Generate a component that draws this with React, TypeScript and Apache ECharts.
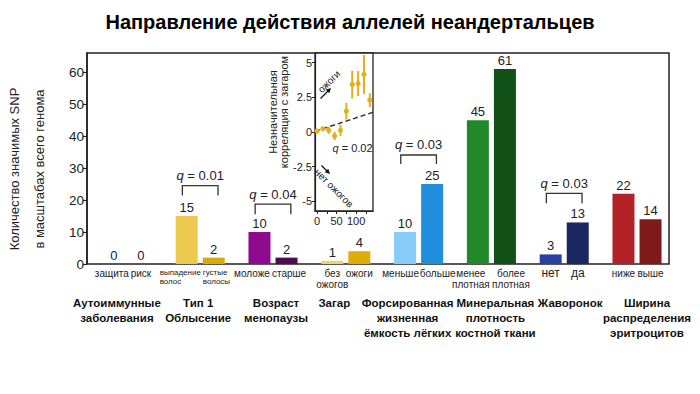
import React, { useEffect, useRef } from 'react';
import * as echarts from 'echarts';

const FONT = "'Liberation Sans', Arial, Helvetica, sans-serif";

// ---- data ----
const groups = [
  'Аутоиммунные\nзаболевания',
  'Тип 1\nОблысение',
  'Возраст\nменопаузы',
  'Загар',
  'Форсированная\nжизненная\nёмкость лёгких',
  'Минеральная\nплотность\nкостной ткани',
  'Жаворонок',
  'Ширина\nраспределения\nэритроцитов',
];
const subA = ['защита', 'выпадение\nволос', 'моложе', 'без\nожогов', 'меньше', 'менее\nплотная', 'нет', 'ниже'];
const subB = ['риск', 'густые\nволосы', 'старше', 'ожоги', 'больше', 'более\nплотная', 'да', 'выше'];
const valuesA = [0, 15, 10, 1, 10, 45, 3, 22];
const valuesB = [0, 2, 2, 4, 25, 61, 13, 14];
const yTicks = [0, 10, 20, 30, 40, 50, 60];

const qGroups = [1, 2, 4, 6];
const qLevel = [24.5, 18.7, 34.1, 22.1];
const qFoot = [21.4, 15.6, 31.3, 19.0];
const qValues = ['0.01', '0.04', '0.03', '0.03'];

const tanX = [0, 15, 30, 45, 60, 75, 90, 105, 120, 135];
const tanY = [0.07, 0.24, 0.12, -0.29, 0.12, 1.5, 3.42, 3.5, 4.15, 2.3];
const tanErr = [0.06, 0.08, 0.25, 0.3, 0.4, 0.6, 1.0, 0.9, 1.4, 0.5];
const fitX = [-5, 143];
const fitY = [0.05, 1.42];
const insetYTicks = [-5, -2.5, 0, 2.5, 5];
const insetXLabels = [0, 50, 100];
const insetXTicks = [0, 25, 50, 75, 100, 125];

// ---- styles ----
const colorsA = ['#999999', '#ECC94F', '#8E0A8E', '#F2D46E', '#87CDF8', '#22892A', '#2B40A3', '#B22226'];
const colorsB = ['#666666', '#D8AA0C', '#4E0B50', '#DFAD08', '#1F8EDC', '#115016', '#1B285F', '#7E1A1A'];
const GOLD = '#E2B01C';
const groupShift = [-10.5, -2, 3, -11.5, -11, 4, 6, 10];
const subAStyle: Record<number, any> = {
  0: { offset: [-2, 0] },
  1: { fontSize: 8, lineHeight: 9, align: 'left', offset: [-27, 0] },
  2: { offset: [-7.5, 0] },
  3: { lineHeight: 11 },
  4: { offset: [-4.5, 0] },
  5: { lineHeight: 11, offset: [-7, 0] },
  6: { fontSize: 12 },
};
const subBStyle: Record<number, any> = {
  1: { fontSize: 8, lineHeight: 9, align: 'left', offset: [-11, 0] },
  2: { offset: [2.5, 0] },
  4: { offset: [5.5, 0] },
  5: { lineHeight: 11, offset: [6, 0] },
  6: { fontSize: 12 },
};

function subSeries(names: string[], styles: Record<number, any>, stack: string) {
  return {
    type: 'bar',
    xAxisIndex: 1,
    yAxisIndex: 1,
    stack,
    barWidth: 22,
    barGap: '23%',
    itemStyle: { color: 'rgba(0,0,0,0)' },
    silent: true,
    data: names.map((n, i) => ({
      value: 0,
      label: { formatter: n, ...(styles[i] || {}) },
    })),
    label: {
      show: true,
      position: 'bottom',
      distance: 4,
      fontSize: 10,
      lineHeight: 10.5,
      color: '#222',
      fontFamily: FONT,
    },
  };
}

function valueSeries(values: number[], colors: string[], stack: string) {
  return {
    type: 'bar',
    xAxisIndex: 1,
    yAxisIndex: 1,
    stack,
    barWidth: 22,
    barGap: '23%',
    data: values.map((v, i) => ({ value: v, itemStyle: { color: colors[i] } })),
    label: {
      show: true,
      position: 'top',
      distance: 2,
      fontSize: 13,
      color: '#222',
      fontFamily: FONT,
    },
  };
}

export default function App() {
  const ref = useRef<HTMLDivElement>(null);
  useEffect(() => {
    if (!ref.current) return;
    const chart = echarts.init(ref.current, undefined, { renderer: 'svg' });
    const option: any = {
      animation: false,
      backgroundColor: '#fff',
      title: {
        text: 'Направление действия аллелей неандертальцев',
        left: 'center',
        top: 12,
        padding: 0,
        textStyle: { fontSize: 20, fontWeight: 'bold', color: '#000', fontFamily: FONT },
      },
      grid: [
        { left: 87, right: 31, top: 53, bottom: 130, show: true, borderColor: '#222', borderWidth: 1.5, backgroundColor: 'transparent', outerBoundsMode: 'none', containLabel: false },
        { left: 91, right: 26.6, top: 53, bottom: 130, outerBoundsMode: 'none', containLabel: false },
        { left: 315, right: 327, top: 53, bottom: 183, show: true, borderColor: '#222', borderWidth: 1.3, backgroundColor: '#fff', outerBoundsMode: 'none', containLabel: false },
      ],
      xAxis: [
        { gridIndex: 0, type: 'category', show: false, data: groups },
        {
          gridIndex: 1,
          type: 'category',
          data: groups.map((g, i) => ({
            value: g,
            textStyle: {
              padding: groupShift[i] < 0 ? [0, -2 * groupShift[i], 0, 0] : [0, 0, 0, 2 * groupShift[i]],
            },
          })),
          axisLine: { show: false },
          axisTick: { show: false },
          axisLabel: {
            interval: 0,
            margin: 31,
            fontSize: 11.5,
            fontWeight: 'bold',
            lineHeight: 15,
            color: '#111',
            fontFamily: FONT,
          },
        },
        {
          gridIndex: 2,
          type: 'value',
          min: -5,
          max: 143,
          splitLine: { show: false },
          axisLine: { show: true, onZero: false, lineStyle: { color: '#222', width: 1.2 } },
          axisTick: { show: true, length: 3, customValues: insetXTicks, lineStyle: { color: '#222' } },
          axisLabel: { customValues: insetXLabels, fontSize: 11, color: '#222', margin: 4, fontFamily: FONT },
        },
      ],
      yAxis: [
        {
          gridIndex: 0,
          type: 'value',
          min: 0,
          max: 66,
          splitLine: { show: false },
          axisLine: { show: true, lineStyle: { color: '#222', width: 1.5 } },
          axisTick: { show: true, length: 4, customValues: yTicks, lineStyle: { color: '#222', width: 1.2 } },
          axisLabel: { customValues: yTicks, fontSize: 13.5, color: '#222', margin: 3, fontFamily: FONT },
          name: 'Количество значимых SNP\nв масштабах всего генома',
          nameLocation: 'middle',
          nameRotate: 90,
          nameGap: 35,
          nameTextStyle: { fontSize: 13, lineHeight: 25, color: '#222', fontFamily: FONT, padding: [0, 21, 0, 0] },
        },
        { gridIndex: 1, type: 'value', min: 0, max: 66, show: false },
        {
          gridIndex: 2,
          type: 'value',
          min: -5.7,
          max: 5.7,
          splitLine: { show: false },
          axisLine: { show: true, onZero: false, lineStyle: { color: '#222', width: 1.2 } },
          axisTick: { show: true, length: 3, customValues: insetYTicks, lineStyle: { color: '#222' } },
          axisLabel: { customValues: insetYTicks, fontSize: 11, color: '#222', margin: 3, fontFamily: FONT },
          name: 'Незначительная\nкорреляция с загаром',
          nameLocation: 'middle',
          nameRotate: 90,
          nameGap: 23,
          nameTextStyle: { fontSize: 11, lineHeight: 11, color: '#222', fontFamily: FONT, padding: [0, 0, 0, 40] },
        },
      ],
      series: [
        subSeries(subA, subAStyle, 'a'),
        valueSeries(valuesA, colorsA, 'a'),
        subSeries(subB, subBStyle, 'b'),
        valueSeries(valuesB, colorsB, 'b'),
        {
          type: 'custom',
          xAxisIndex: 1,
          yAxisIndex: 1,
          z: 5,
          silent: true,
          data: qGroups.map((g, i) => [g, qLevel[i], qFoot[i]]),
          encode: { x: 0, y: 1 },
          renderItem: (params: any, api: any) => {
            const idx = api.value(0);
            const top = api.coord([idx, api.value(1)]);
            const foot = api.coord([idx, api.value(2)]);
            const half = api.size([1, 0])[0] * 0.245;
            return {
              type: 'group',
              children: [
                {
                  type: 'polyline',
                  shape: {
                    points: [
                      [top[0] - half, foot[1]],
                      [top[0] - half, top[1]],
                      [top[0] + half, top[1]],
                      [top[0] + half, foot[1]],
                    ],
                  },
                  style: { stroke: '#333', lineWidth: 1.3, fill: 'none' },
                },
                {
                  type: 'text',
                  style: {
                    x: top[0],
                    y: top[1] - 10,
                    text: `{i|q} = ${qValues[params.dataIndex]}`,
                    align: 'center',
                    verticalAlign: 'middle',
                    fontSize: 13,
                    fontFamily: FONT,
                    fill: '#222',
                    rich: { i: { fontStyle: 'italic', fontSize: 13, fontFamily: FONT, fill: '#222' } },
                  },
                },
              ],
            };
          },
        },
        {
          type: 'line',
          xAxisIndex: 2,
          yAxisIndex: 2,
          data: fitX.map((x, i) => [x, fitY[i]]),
          symbol: 'none',
          silent: true,
          lineStyle: { color: '#333', width: 1.5, type: [5, 3] },
          z: 3,
        },
        {
          type: 'custom',
          xAxisIndex: 2,
          yAxisIndex: 2,
          z: 4,
          silent: true,
          data: tanX.map((x, i) => [x, tanY[i], tanErr[i]]),
          encode: { x: 0, y: 1 },
          renderItem: (params: any, api: any) => {
            const x = api.value(0);
            const y = api.value(1);
            const e = api.value(2);
            const c = api.coord([x, y]);
            const t = api.coord([x, y + e]);
            const b = api.coord([x, y - e]);
            return {
              type: 'group',
              children: [
                { type: 'line', shape: { x1: c[0], y1: t[1], x2: c[0], y2: b[1] }, style: { stroke: GOLD, lineWidth: 2 } },
                { type: 'circle', shape: { cx: c[0], cy: c[1], r: 2.6 }, style: { fill: GOLD } },
              ],
            };
          },
        },
      ],
      graphic: [
        { type: 'line', z: 100, shape: { x1: 320.5, y1: 98.5, x2: 328, y2: 91 }, style: { stroke: '#111', lineWidth: 1.3 } },
        { type: 'polygon', z: 100, shape: { points: [[331, 88], [329.3, 93.3], [325.7, 89.7]] }, style: { fill: '#111' } },
        { type: 'text', z: 100, x: 329, y: 81.5, rotation: Math.PI / 4, style: { text: 'ожоги', align: 'center', verticalAlign: 'middle', fontSize: 10, fontFamily: FONT, fill: '#222' } },
        { type: 'line', z: 100, shape: { x1: 321.5, y1: 165.5, x2: 327, y2: 171 }, style: { stroke: '#111', lineWidth: 1.3 } },
        { type: 'polygon', z: 100, shape: { points: [[330, 174], [328.3, 168.7], [324.7, 172.3]] }, style: { fill: '#111' } },
        { type: 'text', z: 100, x: 334, y: 188, rotation: -Math.PI / 4, style: { text: 'нет ожогов', align: 'center', verticalAlign: 'middle', fontSize: 10, fontFamily: FONT, fill: '#222' } },
        {
          type: 'text', z: 100, x: 352.5, y: 147.5,
          style: {
            text: '{i|q} = 0.02', align: 'center', verticalAlign: 'middle', fontSize: 11, fontFamily: FONT, fill: '#222',
            rich: { i: { fontStyle: 'italic', fontSize: 11, fontFamily: FONT, fill: '#222' } },
          },
        },
      ],
    };
    chart.setOption(option);
    return () => chart.dispose();
  }, []);
  return <div ref={ref} style={{ position: 'fixed', left: 0, top: 0, width: 700, height: 394 }} />;
}
